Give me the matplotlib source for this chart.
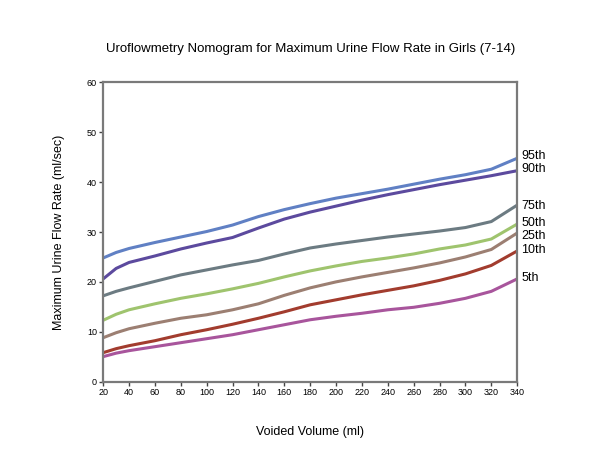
#!/usr/bin/env python3
"""Uroflowmetry nomogram for maximum urine flow rate in girls (7-14)."""
import matplotlib
matplotlib.use("Agg")
import matplotlib.pyplot as plt

plt.rcParams["font.family"] = ["Liberation Sans", "DejaVu Sans"]

volume = [20, 30, 40, 60, 80, 100, 120, 140, 160, 180, 200, 220, 240,
          260, 280, 300, 320, 340]

p95 = [24.8, 25.9, 26.7, 27.9, 29.0, 30.1, 31.4, 33.1, 34.5, 35.7, 36.8,
       37.7, 38.6, 39.6, 40.6, 41.5, 42.6, 44.8]
p90 = [20.6, 22.7, 23.9, 25.2, 26.6, 27.8, 28.9, 30.8, 32.6, 34.0, 35.2,
       36.4, 37.5, 38.5, 39.5, 40.4, 41.3, 42.3]
p75 = [17.2, 18.1, 18.8, 20.1, 21.4, 22.4, 23.4, 24.3, 25.6, 26.8, 27.6,
       28.3, 29.0, 29.6, 30.2, 30.9, 32.1, 35.4]
p50 = [12.3, 13.5, 14.4, 15.6, 16.7, 17.6, 18.6, 19.7, 21.0, 22.2, 23.2,
       24.1, 24.8, 25.6, 26.6, 27.4, 28.6, 31.6]
p25 = [8.8, 9.8, 10.6, 11.7, 12.7, 13.4, 14.4, 15.6, 17.3, 18.8, 20.0,
       21.0, 21.9, 22.8, 23.8, 25.0, 26.5, 29.8]
p10 = [5.8, 6.6, 7.2, 8.2, 9.4, 10.4, 11.5, 12.7, 14.0, 15.4, 16.4,
       17.4, 18.3, 19.2, 20.3, 21.6, 23.3, 26.2]
p5 = [5.0, 5.7, 6.2, 7.0, 7.8, 8.6, 9.4, 10.4, 11.4, 12.4, 13.1,
      13.7, 14.4, 14.9, 15.7, 16.7, 18.1, 20.6]

series = [p95, p90, p75, p50, p25, p10, p5]
names = ["95th", "90th", "75th", "50th", "25th", "10th", "5th"]
colors = ["#6080c4", "#5c4a9e", "#6c7b82", "#9fc46e", "#9c7f72",
          "#a23c2e", "#a8559c"]
label_y = [45.2, 42.6, 35.2, 31.9, 29.3, 26.4, 20.8]

fig = plt.figure(figsize=(6.0, 4.74), dpi=100)
ax = fig.add_axes([0.172, 0.195, 0.69, 0.631])

for vals, c in zip(series, colors):
    ax.plot(volume, vals, color=c, lw=2.2, solid_capstyle="round",
            solid_joinstyle="round")

for name, y in zip(names, label_y):
    ax.text(343, y, name, fontsize=9, ha="left", va="center",
            clip_on=False)

ax.set_xlim(20, 340)
ax.set_ylim(0, 60)
ax.set_xticks(range(20, 341, 20))
ax.set_yticks(range(0, 61, 10))
for s in ax.spines.values():
    s.set_color("#7a7a7a")
    s.set_linewidth(1.6)
ax.tick_params(direction="out", length=3, width=1, color="#444444",
               labelsize=6.5, pad=1.5)

ax.set_title("Uroflowmetry Nomogram for Maximum Urine Flow Rate in Girls (7-14)",
             fontsize=9.5, pad=22)
ax.set_xlabel("Voided Volume (ml)", fontsize=9, labelpad=21)
ax.set_ylabel("Maximum Urine Flow Rate (ml/sec)", fontsize=9, labelpad=16)

fig.savefig("out.png", dpi=100)
